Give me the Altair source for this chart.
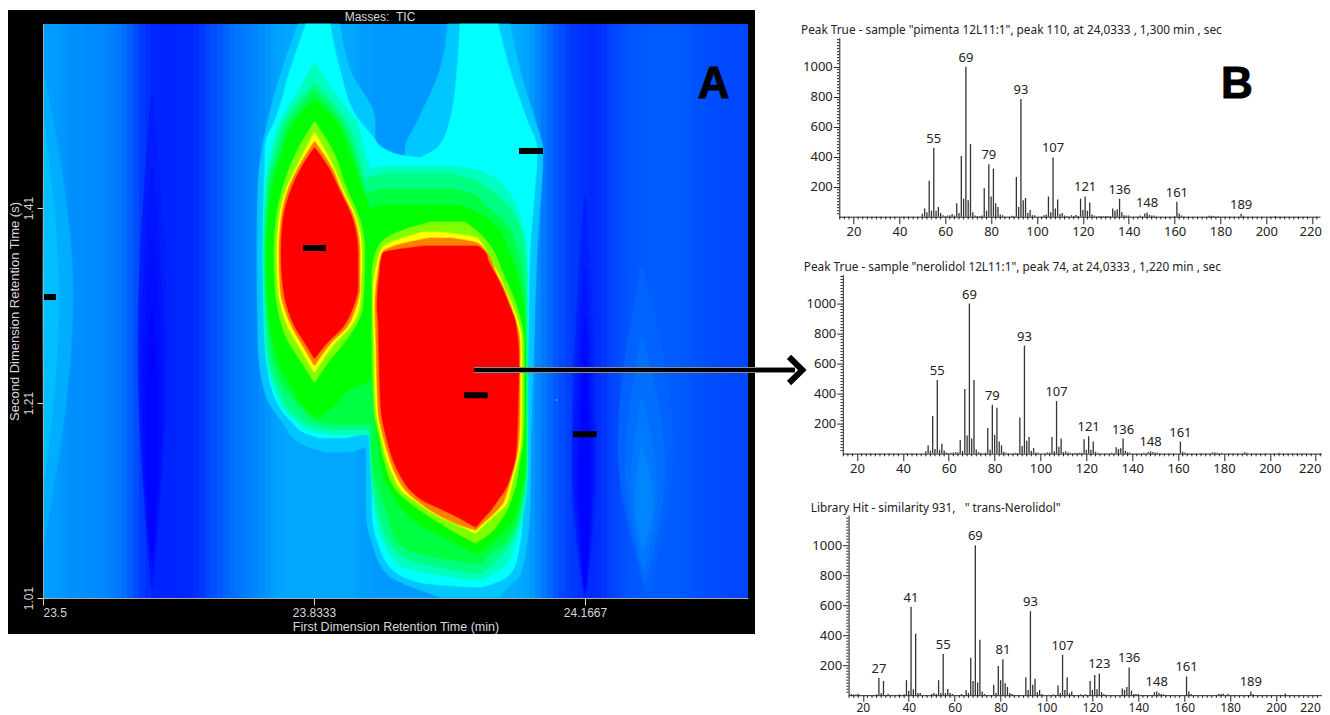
import altair as alt
import pandas as pd

# ---------- Panel A: first dimension read in scans (1/813 min), second in rows (1/975 s)
SCAN = 813.0
ROW = 975.0
def rt1(s): return 23.5 + s / SCAN
def rt2(r): return 1.01 + r / ROW

# background level per 6-scan column (0 = blue, 1 = cyan)
STRIP = 6
strip_levels = [.62,.61,.6,.59,.57,.56,.56,.55,.55,.54,
                .52,.5,.47,.43,.37,.3,.24,.19,.15,.14,
                .14,.14,.14,.15,.16,.18,.22,.27,.31,.35,
                .39,.42,.45,.48,.5,.53,.56,.59,.62,.64,
                .65,.65,.65,.65,.65,.65,.65,.65,.65,.65,
                .65,.65,.63,.62,.61,.6,.6,.6,.6,.6,
                .6,.6,.6,.6,.6,.6,.62,.64,.66,.68,
                .68,.68,.68,.68,.68,.68,.68,.68,.68,.66,
                .64,.6,.54,.47,.41,.34,.29,.25,.22,.2,
                .18,.17,.18,.21,.25,.28,.31,.33,.34,.35,
                .35,.36,.36,.36,.36,.36,.35,.34,.33,.32,
                .31,.3,.29,.29,.28,.28,.28,.28]

# contour boundaries: (row, left scan, right scan)
glow_a = [(520,1,2),(301,0,30),(60,1,2)]
glow_b = [(470,1,2),(301,0,16),(120,1,2)]
light_a = [(330,598,600),(150,575,630),(5,604,606)]
light_b = [(260,598,600),(130,582,622),(15,601,603)]
light_c = [(200,598,600),(110,588,614),(30,600,602)]
light_d = [(150,598,600),(95,592,610),(50,599,601)]
deep_a = [(400,541,543),(130,529,553),(2,541,543)]
deep_b = [(330,541,543),(130,531,551),(4,541,543)]
deep_e = [(280,541,543),(120,534,549),(8,541,543)]
deep_f = [(240,541,543),(110,537,547),(14,541,543)]
deep_c = [(500,108,110),(250,95,124),(10,108,110)]
deep_g = [(430,108,110),(220,98,121),(20,108,110)]
deep_h = [(360,108,110),(190,100,119),(30,108,110)]
deep_d = [(290,108,110),(150,103,115),(45,108,110)]

p1_l0 = [(574,255,297),(528,239,307),(478,225,332),(411,215,332),(345,214,332),(255,215,332),(205,222,332),(175,240,332),(155,257,329),(146,282,307)]
p1_l1 = [(574,263,287),(528,247,297),(478,232,316),(471,229,322),(461,224,330),(450,222,340),(443,222,357),(438,222,387),(411,221,387),(345,220,387),(255,222,387),(205,230,387),(175,250,387),(165,262,327),(160,277,302)]
p1_l15 = [(535,271,272),(500,251,295),(478,238,312),(445,228,322),(411,222,330),(345,220,329),(255,222,329),(205,233,329),(178,252,329),(166,272,329),(163,292,329)]
p1_l2 = [(515,271,272),(478,242,302),(445,231,315),(411,224,323),(345,221,329),(255,224,329),(205,237,329),(181,254,329),(171,272,329),(168,292,329)]
p1_l25 = [(507,271,272),(478,247,297),(445,235,311),(411,226,321),(345,222,329),(255,227,329),(205,245,329),(186,262,329),(177,272,329),(174,292,329)]
p1_l3 = [(498,271,272),(478,252,292),(445,239,307),(411,229,319),(378,225,329),(345,223,329),(288,225,329),(255,230,329),(221,242,329),(205,252,302),(195,257,294),(181,272,277)]
p1_l4 = [(476,271,272),(445,253,291),(411,240,303),(378,233,317),(345,231,322),(311,232,321),(288,235,319),(255,246,301),(238,257,287),(216,271,272)]
p1_l5 = [(465,271,272),(428,252,292),(411,244,299),(378,236,314),(345,234,319),(311,235,318),(288,239,316),(271,245,307),(255,254,292),(226,271,272)]
p1_l6 = [(456,271,272),(428,254,290),(411,246,297),(378,238,312),(345,236,317),(311,237,317),(288,242,312),(271,249,304),(255,258,288),(233,271,272)]
p1_l7 = [(450,271,272),(428,257,287),(411,249,295),(378,240,310),(345,238,315),(311,240,315),(288,245,309),(271,252,300),(255,262,284),(240,271,272)]

p2_l0 = [(574,405,467),(528,397,477),(478,375,492),(448,362,500),(345,362,494),(255,362,491),(155,323,488),(88,323,487),(55,329,484),(23,345,477),(8,377,462),(1,397,457)]
p2_l1 = [(574,417,455),(528,414,467),(478,407,484),(450,394,494),(438,377,494),(411,377,492),(345,377,487),(255,377,485),(168,357,482),(155,329,482),(88,329,480),(55,335,477),(28,350,470),(15,380,452),(11,427,439)]
p2_l15 = [(432,340,410),(426,322,440),(410,322,462),(378,322,478),(345,322,484),(298,324,485),(138,327,485),(88,332,481),(55,341,472),(32,358,462),(18,427,439)]
p2_l2 = [(424,340,410),(418,322,430),(408,322,447),(378,322,474),(345,322,482),(298,325,484),(138,328,484),(88,335,479),(55,347,467),(38,367,454),(25,427,439)]
p2_l25 = [(409,340,410),(403,322,432),(393,322,442),(378,322,460),(345,322,475),(298,325,482),(138,329,483),(88,343,477),(55,356,462),(44,377,447),(35,427,439)]
p2_l3 = [(393,340,415),(385,322,435),(378,322,447),(345,322,467),(311,322,477),(278,325,482),(205,330,483),(155,335,483),(121,341,482),(108,347,478),(88,360,474),(75,374,468),(58,407,452),(50,422,442),(45,432,433)]
p2_l4 = [(376,387,422),(366,355,435),(351,335,448),(325,329,460),(291,329,474),(255,329,481),(188,331,481),(158,337,480),(138,341,477),(106,355,471),(81,387,460),(63,417,445),(55,432,433)]
p2_l5 = [(366,380,397),(360,360,434),(351,340,441),(338,335,447),(325,332,455),(311,330,461),(291,330,470),(255,331,479),(188,333,479),(158,339,478),(138,344,475),(123,350,471),(106,360,467),(95,375,464),(81,397,450),(73,415,441),(65,432,433)]
p2_l6 = [(360,387,407),(355,362,434),(345,339,444),(325,335,453),(311,333,460),(291,332,468),(255,333,477),(188,335,477),(158,341,476),(138,347,473),(123,353,469),(106,364,464),(95,377,460),(81,399,447),(73,417,438),(68,432,433)]
p2_l7 = [(352,382,435),(345,340,443),(338,338,445),(321,336,454),(311,335,459),(291,334,467),(278,335,472),(238,336,476),(188,338,475),(158,344,474),(138,350,472),(123,357,468),(108,367,462),(98,379,455),(88,400,448),(78,420,439),(71,432,433)]

contours = [(.68,glow_a),(.75,glow_b),(.39,light_a),(.43,light_b),(.47,light_c),(.52,light_d),
            (.13,deep_a),(.09,deep_b),(.05,deep_e),(.02,deep_f),(.11,deep_c),(.08,deep_g),(.05,deep_h),(.02,deep_d),
            (.78,p1_l0),(.78,p2_l0),(1.0,p1_l1),(1.0,p2_l1),(1.25,p1_l15),(1.25,p2_l15),(1.5,p1_l2),(1.5,p2_l2),
            (1.75,p1_l25),(1.75,p2_l25),(2.0,p1_l3),(2.0,p2_l3),
            (2.5,p1_l4),(2.5,p2_l4),(3.0,p1_l5),(3.0,p2_l5),(3.5,p1_l6),(3.5,p2_l6),(4.0,p1_l7),(4.0,p2_l7)]

# peak markers: (first dimension from, to, second dimension)
marker_x1 = [23.5, 24.0855, 23.82, 24.018, 24.152]
marker_x2 = [23.516, 24.115, 23.848, 24.047, 24.181]
marker_y = [1.3187, 1.4685, 1.369, 1.218, 1.178]

# ---------- Panel B: mass spectra
sp1 = {50:20,51:55,52:30,53:240,54:40,55:460,56:40,57:65,58:25,59:10,60:5,61:8,62:10,63:18,64:8,65:90,66:25,67:405,68:120,69:1000,70:110,71:485,72:30,73:8,74:5,75:5,76:8,77:190,78:40,79:350,80:135,81:320,82:90,83:65,84:15,85:10,89:6,90:3,91:265,92:65,93:785,94:110,95:125,96:25,97:45,98:10,99:10,103:10,104:15,105:135,106:30,107:395,108:55,109:115,110:18,111:25,112:8,113:5,115:10,116:5,117:12,118:5,119:120,120:45,121:135,122:40,123:95,124:15,125:8,127:5,128:5,129:5,130:4,131:4,132:3,133:55,134:40,135:50,136:120,137:30,138:10,139:8,140:8,145:8,147:22,148:28,149:12,150:8,151:8,160:5,161:100,162:22,163:8,175:6,176:6,177:5,179:5,189:20,190:6,204:5}
sp2 = {50:15,51:55,52:20,53:250,54:30,55:490,56:25,57:65,58:20,59:8,60:4,61:6,62:8,63:10,64:8,65:90,66:18,67:430,68:120,69:1000,70:100,71:490,72:28,73:10,74:4,76:6,77:170,78:25,79:325,80:125,81:305,82:80,83:55,84:12,85:6,89:5,90:3,91:240,92:50,93:720,94:85,95:110,96:18,97:38,98:8,99:8,103:8,104:8,105:110,106:15,107:350,108:45,109:100,110:10,111:15,112:8,113:6,115:6,116:4,117:6,118:6,119:95,120:25,121:115,122:25,123:80,124:12,125:6,131:6,133:42,134:30,135:35,136:100,137:18,138:10,139:6,145:6,147:10,148:15,149:10,150:8,151:6,161:80,162:12,163:8,175:8,176:8,177:6,179:5,189:10,190:6,204:5}
sp3 = {15:8,16:4,17:5,18:10,26:6,27:115,28:15,29:95,31:10,36:6,38:6,39:100,40:30,41:590,42:40,43:410,44:15,45:15,50:8,51:15,52:8,53:100,54:15,55:275,56:15,57:42,58:15,59:8,63:8,65:35,66:15,67:250,68:95,69:1000,70:85,71:370,72:25,73:8,77:70,78:15,79:195,80:100,81:240,82:80,83:55,84:15,85:8,91:120,92:35,93:560,94:70,95:110,96:20,97:35,98:8,103:6,105:65,106:15,107:270,108:35,109:120,110:12,111:25,115:6,117:6,119:95,120:35,121:135,122:40,123:145,124:20,125:8,133:45,134:35,135:55,136:185,137:30,138:8,139:8,140:8,147:20,148:25,149:15,150:8,151:6,161:125,162:25,163:8,175:8,176:8,177:10,179:10,189:25,190:6,204:12}
labels1 = [55,69,79,93,107,121,136,148,161,189]
labels2 = [55,69,79,93,107,121,136,148,161]
labels3 = [27,41,55,69,81,93,107,123,136,148,161,189]
title1 = 'Peak True - sample "pimenta 12L11:1", peak 110, at 24,0333 , 1,300 min , sec'
title2 = 'Peak True - sample "nerolidol 12L11:1", peak 74, at 24,0333 , 1,220 min , sec'
title3 = 'Library Hit - similarity 931,\u00a0\u00a0\u00a0" trans-Nerolidol"'

FONT_A = "Liberation Sans"
FONT_B = "Noto Sans"
INK = "#222222"
PALE = "#d8d8d8"

# ---------- Panel A construction
W_A, H_A = 705, 574
xs = alt.Scale(domain=[23.5, rt1(W_A)], nice=False, zero=False)
ys = alt.Scale(domain=[1.01, rt2(H_A)], nice=False, zero=False)
x_axis = alt.Axis(values=[23.5, 23.8333, 24.1667], format=".4~f", title="First Dimension Retention Time (min)",
                  grid=False, zindex=1, labelColor=PALE, titleColor=PALE, tickColor=PALE, domainColor="#aaaaaa",
                  tickSize=7, labelPadding=2, titlePadding=2, labelFont=FONT_A, titleFont=FONT_A,
                  labelFontSize=12, titleFontSize=12.5, titleFontWeight="normal")
y_axis = alt.Axis(values=[1.01, 1.21, 1.41], format=".2f", title="Second Dimension Retention Time (s)",
                  grid=False, zindex=1, labelColor=PALE, titleColor=PALE, tickColor=PALE, domainColor="#aaaaaa",
                  tickSize=6, labelPadding=2, titlePadding=1, labelAngle=270, labelAlign="center", labelBaseline="bottom",
                  labelFont=FONT_A, titleFont=FONT_A, labelFontSize=12, titleFontSize=13, titleFontWeight="normal")
X = lambda f: alt.X(f, scale=xs, axis=x_axis)
Y = lambda f: alt.Y(f, scale=ys, axis=y_axis)
cs = alt.Scale(domain=[0, 1, 2, 3, 4], range=["#0000ff", "#00ffff", "#00ff00", "#ffff00", "#ff0000"], interpolate="rgb")

frame = alt.Chart(pd.DataFrame({"k": [0]})).mark_rect(color="#000000").encode(
    x=alt.value(-35), x2=alt.value(712), y=alt.value(-14), y2=alt.value(610))

strip_df = pd.DataFrame({
    "a": [rt1(STRIP * i) for i in range(len(strip_levels))],
    "b": [rt1(min(STRIP * (i + 1) + 1, W_A)) for i in range(len(strip_levels))],
    "level": strip_levels})
strips = alt.Chart(strip_df).mark_rect().encode(
    x=X("a:Q"), x2="b:Q", color=alt.Color("level:Q", scale=cs, legend=None))

rows = []
for i, (lev, pts) in enumerate(contours):
    for r, l, rr in pts:
        rows.append({"id": f"c{i:02d}", "level": lev, "y": rt2(r), "l": rt1(l), "r": rt1(rr)})
areas = alt.Chart(pd.DataFrame(rows)).mark_area(orient="horizontal", interpolate="monotone", strokeWidth=1.5, strokeOpacity=0.4).encode(
    y=Y("y:Q"), x=X("l:Q"), x2="r:Q",
    fill=alt.Fill("level:Q", scale=cs, legend=None),
    stroke=alt.Stroke("level:Q", scale=cs, legend=None), detail="id:N")

markers = alt.Chart(pd.DataFrame({"a": marker_x1, "b": marker_x2, "y": marker_y})).mark_rule(
    color="#000000", strokeWidth=6).encode(x=X("a:Q"), x2="b:Q", y=Y("y:Q"))
speck = alt.Chart(pd.DataFrame({"x": [24.132], "y": [1.213]})).mark_point(
    filled=True, size=2, color="#a8d8ff", opacity=1).encode(x=X("x:Q"), y=Y("y:Q"))

arrow_df = pd.DataFrame({"a": [24.0301], "b": [24.425], "y": [1.2438]})
arrow_edge = alt.Chart(arrow_df).mark_rule(color="#bbbbbb", strokeWidth=6).encode(x=X("a:Q"), x2="b:Q", y=Y("y:Q"))
arrow_line = alt.Chart(arrow_df).mark_rule(color="#000000", strokeWidth=4.5).encode(x=X("a:Q"), x2="b:Q", y=Y("y:Q"))
head = alt.Chart(pd.DataFrame({"k": [0, 1, 2], "x": [24.4176, 24.4340, 24.4176], "y": [1.2572, 1.2438, 1.2305]})).mark_line(
    color="#000000", strokeWidth=6, strokeJoin="miter").encode(x=X("x:Q"), y=Y("y:Q"), order="k:Q")

masses = alt.Chart(pd.DataFrame({"x": [23.9145], "y": [1.6059], "t": ["Masses:\u00a0\u00a0TIC"]})).mark_text(
    color=PALE, font=FONT_A, fontSize=12).encode(x=X("x:Q"), y=Y("y:Q"), text="t:N")
letter_a = alt.Chart(pd.DataFrame({"x": [24.325], "y": [1.536], "t": ["A"]})).mark_text(
    color="#000000", font=FONT_A, fontSize=44, fontWeight="bold", stroke="#000000", strokeWidth=1).encode(x=X("x:Q"), y=Y("y:Q"), text="t:N")

panel_a = alt.layer(frame, strips, areas, markers, speck, arrow_edge, arrow_line, head, masses, letter_a).properties(
    width=W_A, height=H_A)

# ---------- Panel B construction
W_B = 491
MZ = [13.8, 223.4]
x_vals = list(range(20, 221, 20))
minor_x = [m for m in range(14, 223, 2) if m % 20]
minor_y = [v for v in range(20, 1190, 20) if v % 200]

def spectrum(values, labels, title, px_range, py_range, height, y_max, title_x, title_y, last_shift, tick_font=13, tick_pad=2, tick_len=7, letter=None):
    sx = alt.Scale(domain=MZ, range=px_range, nice=False, zero=False)
    sy = alt.Scale(domain=[0, y_max], range=py_range, nice=False, zero=False)
    ax = alt.Axis(values=x_vals, grid=False, title=None, tickSize=tick_len, labelPadding=tick_pad, labelFont=FONT_B, labelFontSize=tick_font,
                  labelColor=INK, tickColor=INK, domainColor=INK, labelFlush=False,
                  labelOffset={"condition": {"test": "datum.value == 220", "value": last_shift}, "value": 0})
    ay = alt.Axis(values=[200, 400, 600, 800, 1000], format="d", grid=False, title=None, tickSize=6, labelPadding=1, labelFont=FONT_B,
                  labelFontSize=13, labelColor=INK, tickColor=INK, domainColor=INK, offset=-px_range[0])
    XX = lambda f: alt.X(f, scale=sx, axis=ax)
    YY = lambda f: alt.Y(f, scale=sy, axis=ay)
    df = pd.DataFrame({"mz": list(values), "i": list(values.values()), "z": 0})
    bars = alt.Chart(df).mark_rule(color="#333333", strokeWidth=1.3).encode(x=XX("mz:Q"), y=YY("i:Q"), y2="z:Q")
    lab = pd.DataFrame({"mz": labels, "i": [values[m] for m in labels], "t": [str(m) for m in labels]})
    texts = alt.Chart(lab).mark_text(color=INK, font=FONT_B, fontSize=13, dy=-9).encode(x=XX("mz:Q"), y=YY("i:Q"), text="t:N")
    tx = alt.Chart(pd.DataFrame({"mz": minor_x, "a": 0, "b": -18})).mark_rule(color=INK, strokeWidth=1).encode(
        x=XX("mz:Q"), y=YY("a:Q"), y2="b:Q")
    ty = alt.Chart(pd.DataFrame({"v": minor_y, "a": MZ[0], "b": MZ[0] - 1.0})).mark_rule(color=INK, strokeWidth=1).encode(
        y=YY("v:Q"), x=XX("a:Q"), x2="b:Q")
    head_txt = alt.Chart(pd.DataFrame({"t": [title]})).mark_text(
        color=INK, font=FONT_B, fontSize=11.8, align="left").encode(
        x=alt.value(title_x), y=alt.value(title_y), text="t:N")
    layers = [bars, tx, ty, texts, head_txt]
    if letter:
        layers.append(alt.Chart(pd.DataFrame({"mz": [187.2], "i": [878], "t": [letter]})).mark_text(
            color="#000000", font=FONT_A, fontSize=44, fontWeight="bold", stroke="#000000", strokeWidth=1).encode(x=XX("mz:Q"), y=YY("i:Q"), text="t:N"))
    return alt.layer(*layers).properties(width=W_B, height=height)

r1 = spectrum(sp1, labels1, title1, [0, 480.7], [192.7, 13.7], 192.7, 1193, -38.3, 6, -2, letter="B")
r2 = spectrum(sp2, labels2, title2, [3.5, 484.2], [179, 0], 179, 1193, -35.5, -7.6, -6)
r3 = spectrum(sp3, labels3, title3, [9.3, 490.5], [184, 4], 184, 1200, -28.6, -3.3, -12, tick_font=12, tick_pad=1, tick_len=6)

right = alt.vconcat(r1, r2, r3, spacing=57.6, bounds="flush")
chart = alt.hconcat(panel_a, right, spacing=91.3, bounds="flush").properties(
    padding={"left": 0, "top": 2, "right": -9, "bottom": 6}, background="white"
).configure_view(stroke=None)

chart.save("out.html", embed_options={"renderer": "svg", "actions": False})
